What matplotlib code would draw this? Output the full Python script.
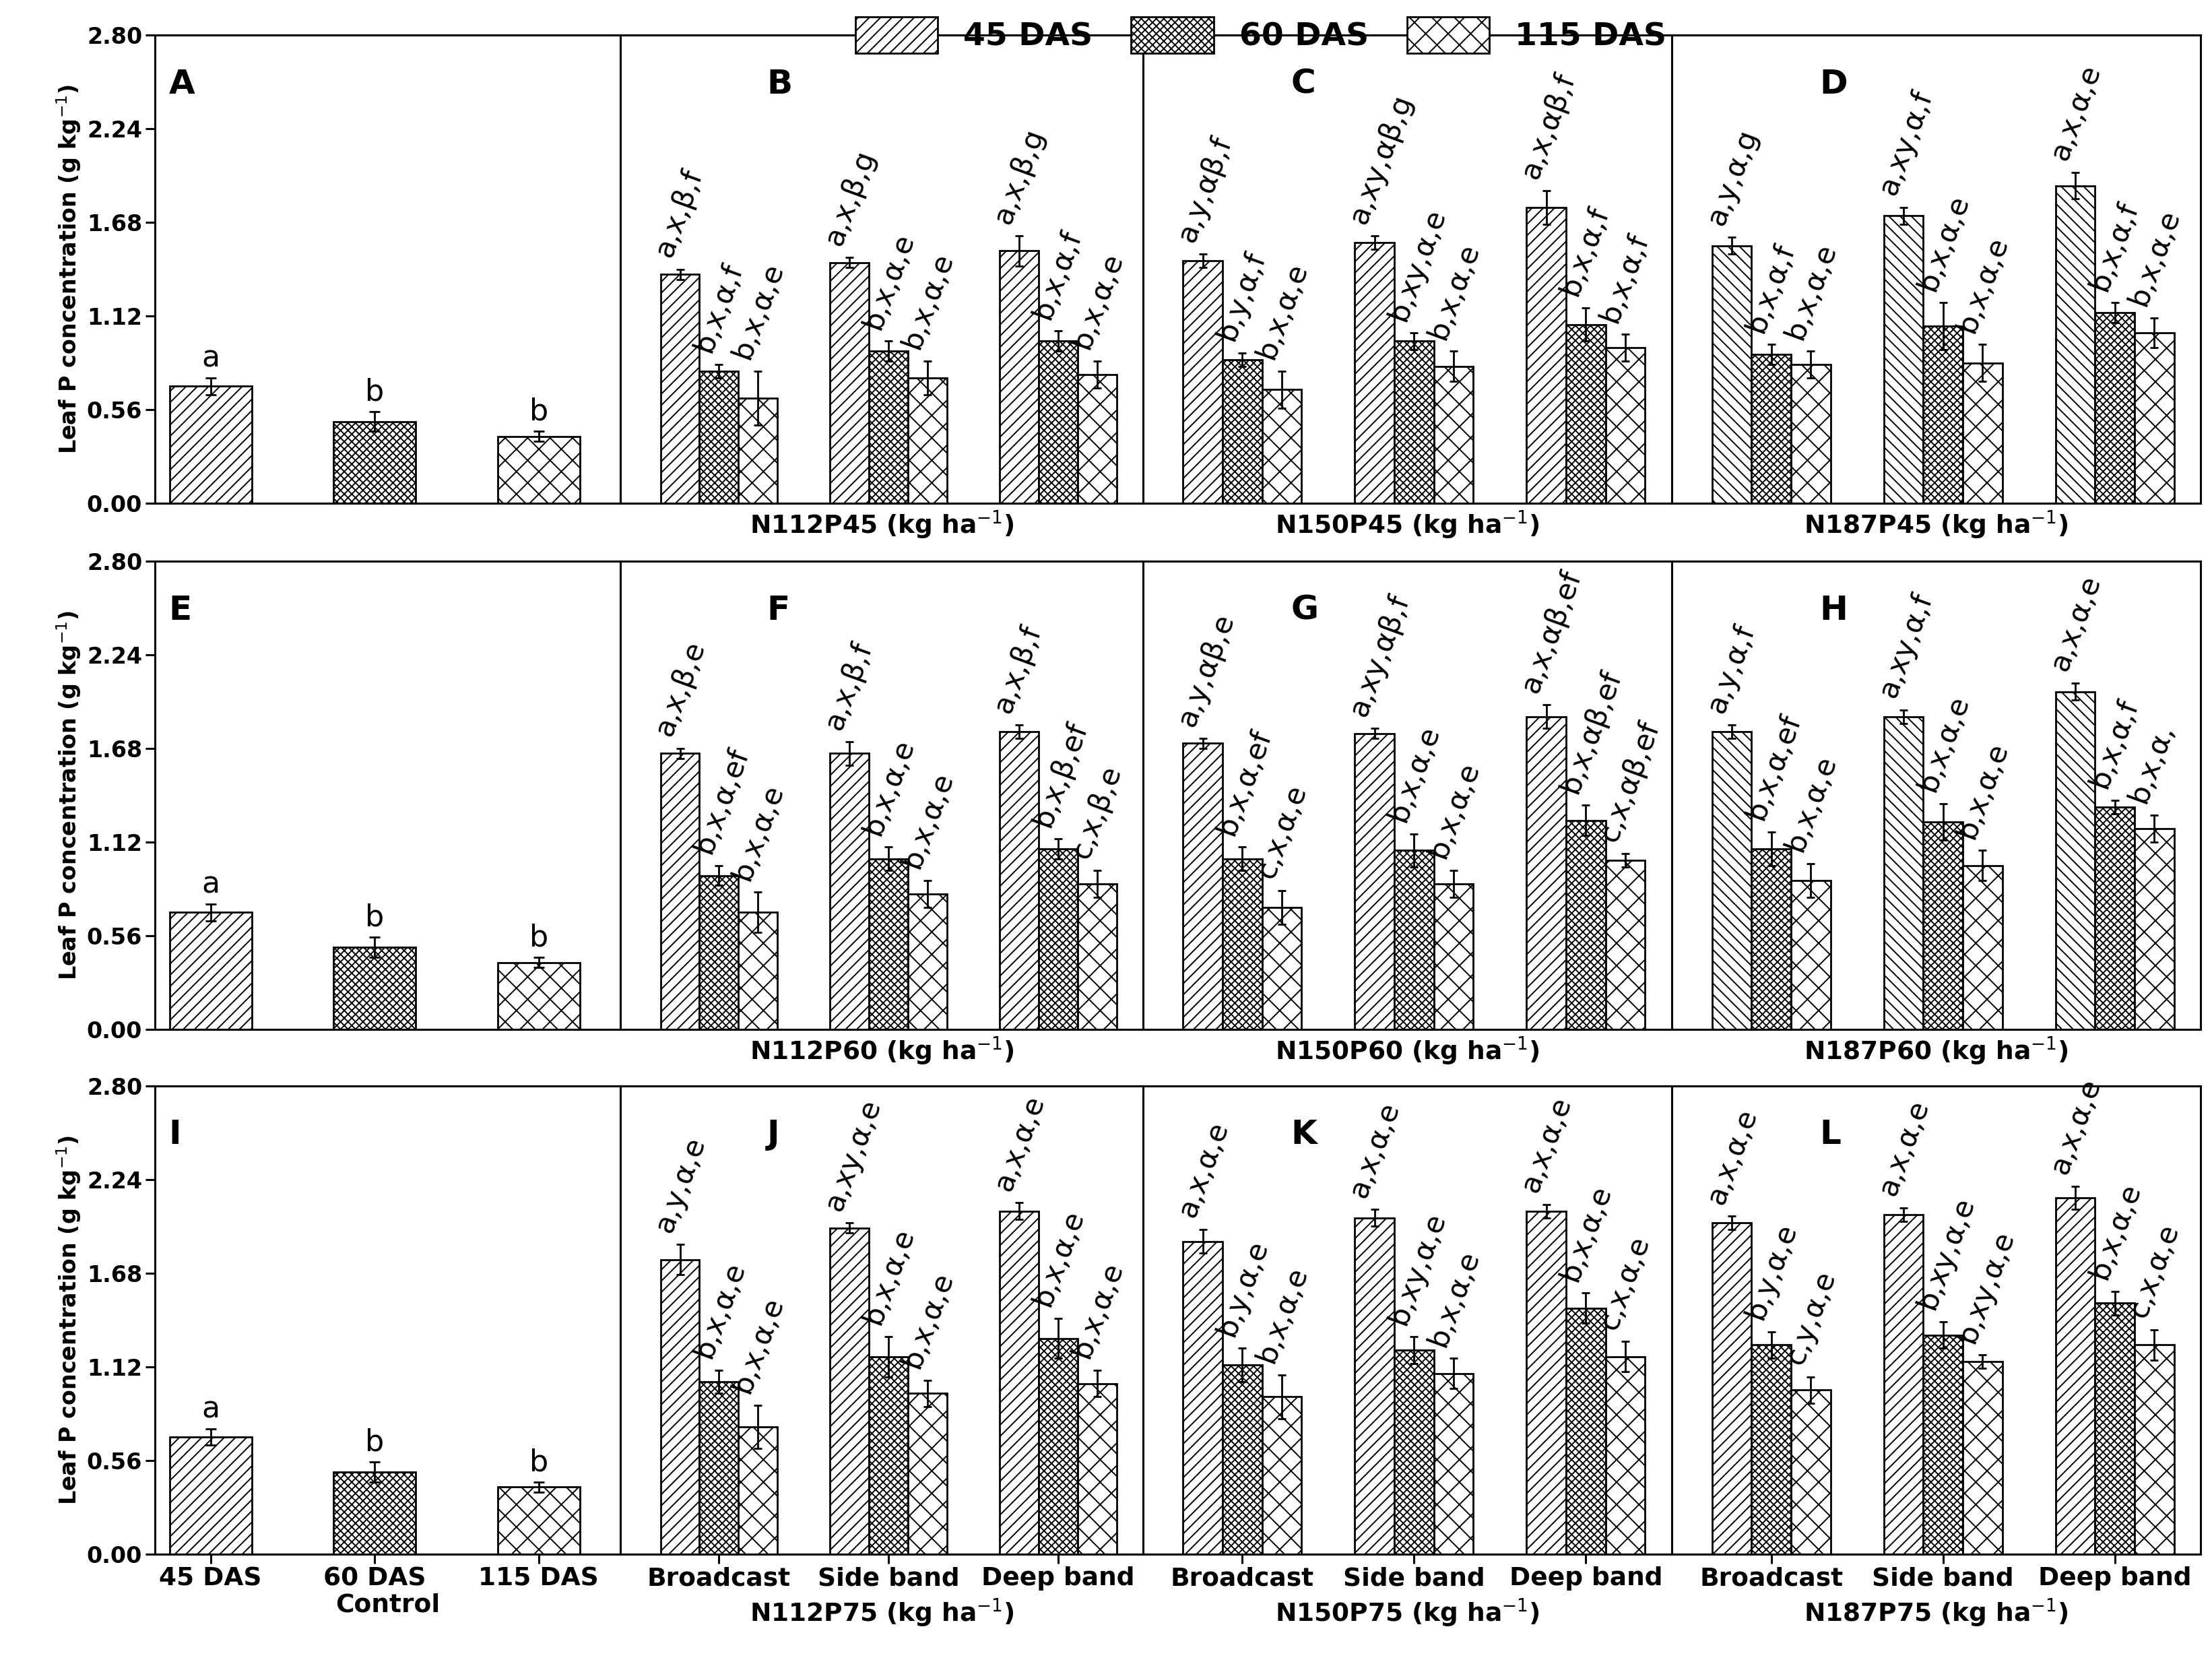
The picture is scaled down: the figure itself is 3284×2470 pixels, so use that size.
import matplotlib
matplotlib.use("Agg")
import matplotlib.pyplot as plt
from matplotlib.patches import Patch
import numpy as np

plt.rcParams["hatch.linewidth"] = 1.4
plt.rcParams["font.family"] = "DejaVu Sans"

stages = ["45 DAS", "60 DAS", "115 DAS"]
methods = ["Broadcast", "Side band", "Deep band"]
hatches = ["//", "xxx", "x"]

control_vals = [0.70, 0.49, 0.40]
control_err = [0.05, 0.06, 0.03]
control_letters = ["a", "b", "b"]
control_panels = ["A", "E", "I"]

panel_names = [["B", "C", "D"], ["F", "G", "H"], ["J", "K", "L"]]
panel_titles = [["N112P45", "N150P45", "N187P45"],
                ["N112P60", "N150P60", "N187P60"],
                ["N112P75", "N150P75", "N187P75"]]

# values[row][panel][method] = [45, 60, 115 DAS]
values = [
    [[[1.37, 0.79, 0.63], [1.44, 0.91, 0.75], [1.51, 0.97, 0.77]],
     [[1.45, 0.86, 0.68], [1.56, 0.97, 0.82], [1.77, 1.07, 0.93]],
     [[1.54, 0.89, 0.83], [1.72, 1.06, 0.84], [1.90, 1.14, 1.02]]],
    [[[1.65, 0.92, 0.70], [1.65, 1.02, 0.81], [1.78, 1.08, 0.87]],
     [[1.71, 1.02, 0.73], [1.77, 1.07, 0.87], [1.87, 1.25, 1.01]],
     [[1.78, 1.08, 0.89], [1.87, 1.24, 0.98], [2.02, 1.33, 1.20]]],
    [[[1.76, 1.03, 0.76], [1.95, 1.18, 0.96], [2.05, 1.29, 1.02]],
     [[1.87, 1.13, 0.94], [2.01, 1.22, 1.08], [2.05, 1.47, 1.18]],
     [[1.98, 1.25, 0.98], [2.03, 1.31, 1.15], [2.13, 1.50, 1.25]]],
]
errors = [
    [[[0.03, 0.04, 0.16], [0.03, 0.06, 0.10], [0.09, 0.06, 0.08]],
     [[0.04, 0.04, 0.11], [0.04, 0.05, 0.09], [0.10, 0.10, 0.08]],
     [[0.05, 0.06, 0.08], [0.05, 0.14, 0.11], [0.08, 0.06, 0.09]]],
    [[[0.03, 0.06, 0.12], [0.07, 0.07, 0.08], [0.04, 0.06, 0.08]],
     [[0.03, 0.07, 0.10], [0.03, 0.10, 0.08], [0.07, 0.09, 0.04]],
     [[0.04, 0.10, 0.10], [0.04, 0.11, 0.09], [0.05, 0.04, 0.08]]],
    [[[0.09, 0.07, 0.13], [0.03, 0.12, 0.08], [0.05, 0.12, 0.08]],
     [[0.07, 0.10, 0.13], [0.05, 0.08, 0.09], [0.04, 0.09, 0.09]],
     [[0.04, 0.08, 0.08], [0.04, 0.08, 0.04], [0.07, 0.07, 0.09]]],
]
letters = [
    [[["a,x,β,f", "b,x,α,f", "b,x,α,e"], ["a,x,β,g", "b,x,α,e", "b,x,α,e"], ["a,x,β,g", "b,x,α,f", "b,x,α,e"]],
     [["a,y,αβ,f", "b,y,α,f", "b,x,α,e"], ["a,xy,αβ,g", "b,xy,α,e", "b,x,α,e"], ["a,x,αβ,f", "b,x,α,f", "b,x,α,f"]],
     [["a,y,α,g", "b,x,α,f", "b,x,α,e"], ["a,xy,α,f", "b,x,α,e", "b,x,α,e"], ["a,x,α,e", "b,x,α,f", "b,x,α,e"]]],
    [[["a,x,β,e", "b,x,α,ef", "b,x,α,e"], ["a,x,β,f", "b,x,α,e", "b,x,α,e"], ["a,x,β,f", "b,x,β,ef", "c,x,β,e"]],
     [["a,y,αβ,e", "b,x,α,ef", "c,x,α,e"], ["a,xy,αβ,f", "b,x,α,e", "b,x,α,e"], ["a,x,αβ,ef", "b,x,αβ,ef", "c,x,αβ,ef"]],
     [["a,y,α,f", "b,x,α,ef", "b,x,α,e"], ["a,xy,α,f", "b,x,α,e", "b,x,α,e"], ["a,x,α,e", "b,x,α,f", "b,x,α,"]]],
    [[["a,y,α,e", "b,x,α,e", "b,x,α,e"], ["a,xy,α,e", "b,x,α,e", "b,x,α,e"], ["a,x,α,e", "b,x,α,e", "b,x,α,e"]],
     [["a,x,α,e", "b,y,α,e", "b,x,α,e"], ["a,x,α,e", "b,xy,α,e", "b,x,α,e"], ["a,x,α,e", "b,x,α,e", "c,x,α,e"]],
     [["a,x,α,e", "b,y,α,e", "c,y,α,e"], ["a,x,α,e", "b,xy,α,e", "b,xy,α,e"], ["a,x,α,e", "b,x,α,e", "c,x,α,e"]]],
]

yticks = [0.00, 0.56, 1.12, 1.68, 2.24, 2.80]

fig = plt.figure(figsize=(32.84, 24.70), dpi=100)
row_bottoms = [0.6975, 0.3814, 0.0661]
row_h = 0.2814
ctrl_left, ctrl_w = 0.070, 0.2106
panel_lefts = [0.2806, 0.5166, 0.7557]
panel_ws = [0.236, 0.2391, 0.2392]


def style(ax):
    ax.set_ylim(0, 2.8)
    ax.set_yticks(yticks)
    for s in ax.spines.values():
        s.set_linewidth(2.2)
    ax.tick_params(width=2.2, length=10, labelsize=24)


for r in range(3):
    b = row_bottoms[r]
    ax = fig.add_axes([ctrl_left, b, ctrl_w, row_h])
    x = np.arange(3)
    for i in range(3):
        ax.bar(x[i], control_vals[i], 0.5, yerr=control_err[i], color="white",
               edgecolor="black", linewidth=2, hatch=hatches[i], capsize=6,
               error_kw=dict(elinewidth=2, capthick=2))
        ax.text(x[i], control_vals[i] + control_err[i] + 0.03, control_letters[i],
                ha="center", va="bottom", fontsize=32)
    ax.set_xlim(-0.34, 2.5)
    style(ax)
    ax.set_yticklabels([f"{t:.2f}" for t in yticks], fontweight="bold")
    ax.set_ylabel("Leaf P concentration (g kg$^{-1}$)", fontsize=24, fontweight="bold")
    ax.text(0.03, 0.93, control_panels[r], transform=ax.transAxes, fontsize=36,
            fontweight="bold", va="top")
    if r == 2:
        ax.set_xticks(x)
        ax.set_xticklabels(stages, fontsize=27, fontweight="bold")
        ax.set_xlabel("Control", fontsize=27, fontweight="bold", labelpad=2)
    else:
        ax.set_xticks([])

    for p in range(3):
        ax = fig.add_axes([panel_lefts[p], b, panel_ws[p], row_h])
        w = 0.23
        first_hatch = "\\\\" if p == 2 and r < 2 else "//"
        hs = [first_hatch, "xxx", "x"]
        for g in range(3):
            for i in range(3):
                xi = g + (i - 1) * w
                v = values[r][p][g][i]
                e = errors[r][p][g][i]
                ax.bar(xi, v, w, yerr=e, color="white", edgecolor="black",
                       linewidth=2, hatch=hs[i], capsize=4,
                       error_kw=dict(elinewidth=2, capthick=2))
                ax.text(xi - 0.02, v + e + 0.05, letters[r][p][g][i], rotation=70,
                        ha="left", va="bottom", fontsize=31, rotation_mode="anchor")
        ax.set_xlim(-0.58, 2.5)
        style(ax)
        ax.set_yticklabels([])
        ax.tick_params(axis="y", length=0)
        ax.text(0.28, 0.93, panel_names[r][p], transform=ax.transAxes, fontsize=36,
                fontweight="bold", va="top")
        label = panel_titles[r][p] + " (kg ha$^{-1}$)"
        if r == 2:
            ax.set_xticks(range(3))
            ax.set_xticklabels(methods, fontsize=27, fontweight="bold")
        else:
            ax.set_xticks([])
        ax.set_xlabel(label, fontsize=27, fontweight="bold", labelpad=6)

handles = [Patch(facecolor="white", edgecolor="black", hatch=h, linewidth=2) for h in hatches]
fig.legend(handles, stages, loc="center", bbox_to_anchor=(0.57, 0.979), ncol=3,
           frameon=False, prop=dict(size=34, weight="bold"), handlelength=2.6,
           handleheight=1.4, columnspacing=1.2)

fig.savefig("out.png", dpi=100, facecolor="white")
